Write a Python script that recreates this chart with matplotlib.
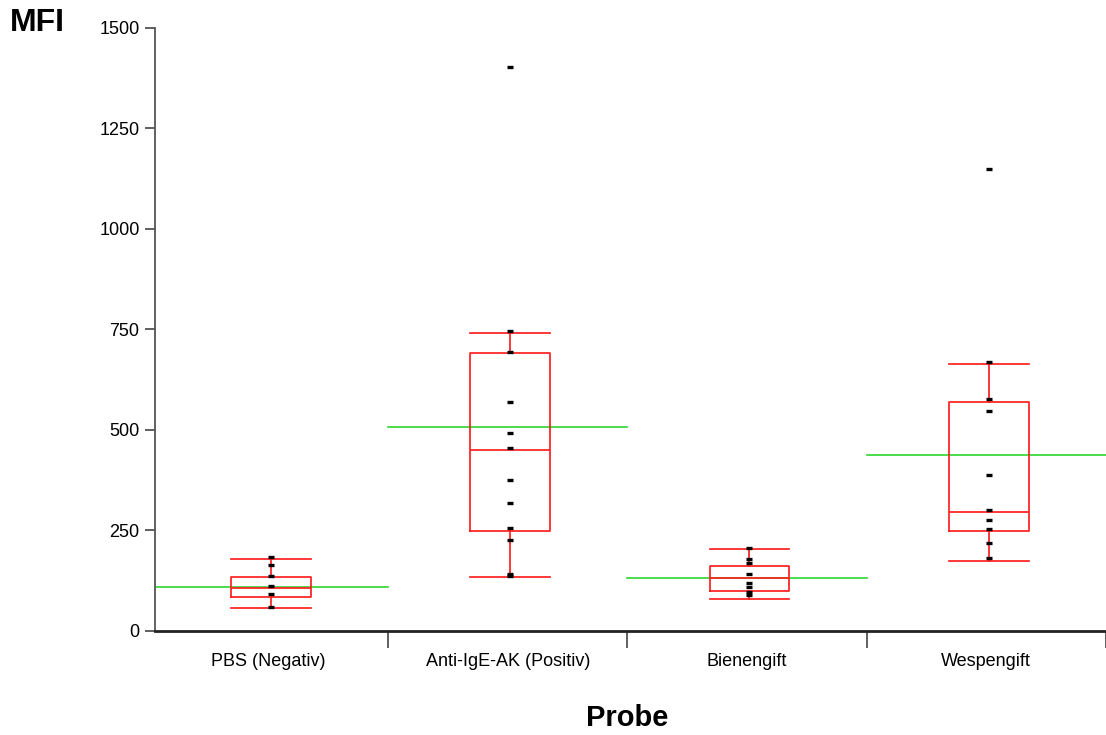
import matplotlib.pyplot as plt

plt.rcParams['font.family'] = ['Liberation Sans', 'DejaVu Sans']

# Proben und Kennwerte der Boxplots (MFI)
proben = ["PBS (Negativ)", "Anti-IgE-AK (Positiv)", "Bienengift", "Wespengift"]
unterer_whisker = [57, 134, 80, 174]
q1 = [85, 249, 100, 249]
median = [107, 450, 132, 296]
q3 = [134, 692, 162, 570]
oberer_whisker = [180, 741, 204, 664]
mittelwert = [110, 508, 133, 438]

# Einzelwerte pro Probe
werte_pbs = [185, 165, 138, 113, 93, 60]
werte_anti_ige = [1403, 747, 695, 570, 492, 455, 375, 318, 256, 226, 142, 137]
werte_biene = [207, 179, 169, 142, 119, 109, 97, 90]
werte_wespe = [1149, 670, 577, 547, 388, 301, 276, 254, 219, 182]
einzelwerte = [werte_pbs, werte_anti_ige, werte_biene, werte_wespe]

rot = '#ff2020'
gruen = '#2ed62e'

fig = plt.figure(figsize=(11.06, 7.35), dpi=100)
ax = fig.add_axes([0.140, 0.1415, 0.860, 0.8205])

stats = []
for i in range(len(proben)):
    stats.append({'whislo': unterer_whisker[i], 'q1': q1[i], 'med': median[i],
                  'q3': q3[i], 'whishi': oberer_whisker[i], 'fliers': []})

pos = [i + 0.01 for i in range(len(proben))]
ax.bxp(stats, positions=pos, widths=0.333, capwidths=0.333,
       showfliers=False,
       boxprops=dict(color=rot, linewidth=1.25),
       medianprops=dict(color=rot, linewidth=1.25),
       whiskerprops=dict(color=rot, linewidth=1.25),
       capprops=dict(color=rot, linewidth=1.25))

# Mittelwert als gruene Linie ueber die ganze Kategorie
for i, m in enumerate(mittelwert):
    ax.plot([i - 0.5, i + 0.5], [m, m], color=gruen, linewidth=1.2, zorder=1)

# Einzelwerte als kurze Striche
for i, werte in enumerate(einzelwerte):
    ax.plot([pos[i]] * len(werte), werte, linestyle='none', marker='_',
            markersize=5, markeredgewidth=2.4, color='black', zorder=4)

ax.set_xlim(-0.475, 3.5)
ax.set_ylim(0, 1500)
ax.set_yticks([0, 250, 500, 750, 1000, 1250, 1500])

ax.set_xticks([0.5, 1.5, 2.5, 3.5])
ax.set_xticklabels([])
ax.set_xticks(range(len(proben)), minor=True)
ax.set_xticklabels(proben, minor=True)
ax.tick_params(axis='x', which='major', length=12, width=1.2, color='#444444')
ax.tick_params(axis='x', which='minor', length=0, pad=16, labelsize=13)
ax.tick_params(axis='y', length=7, width=1.2, color='#444444', pad=4, labelsize=13)

for s in ['top', 'right']:
    ax.spines[s].set_visible(False)
ax.spines['left'].set_color('#555555')
ax.spines['left'].set_linewidth(1.3)
ax.spines['bottom'].set_color('#222222')
ax.spines['bottom'].set_linewidth(2.0)

fig.text(0.009, 0.969, "MFI", fontsize=23, fontweight='bold', va='center', ha='left')
fig.text(0.567, 0.023, "Probe", fontsize=21, fontweight='bold', va='center', ha='center')

fig.savefig('out.png', dpi=100)
